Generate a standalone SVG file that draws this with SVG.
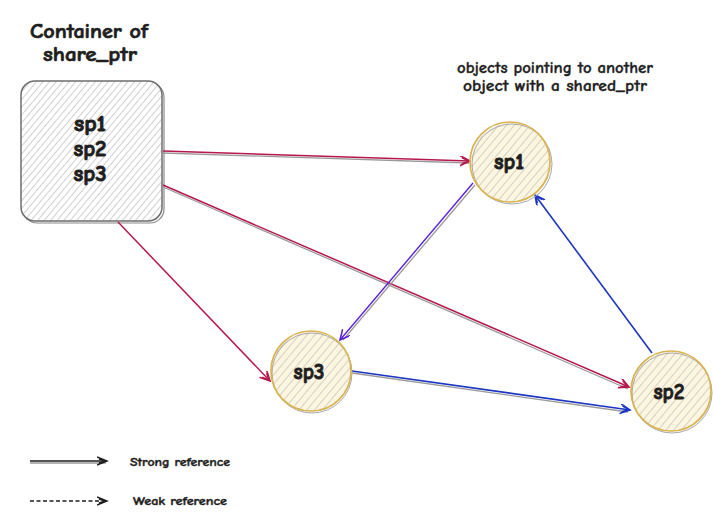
<svg xmlns="http://www.w3.org/2000/svg" width="713" height="514" viewBox="0 0 713 514">
<style>
text{font-family:"Comic Neue","Noto Sans","Liberation Sans",sans-serif;font-weight:bold;fill:#1e1e1e;stroke:#1e1e1e}
.t{font-size:21px;text-anchor:middle;stroke-width:0.7}
.n{font-size:22px;text-anchor:middle;stroke-width:0.9}
.c{font-size:15px;text-anchor:middle;stroke-width:0.3}
.l{font-size:12px;stroke-width:0.4}
.sh{stroke:#9a9a9a;stroke-width:1.3;fill:none}
.cr{stroke:#b5174f;stroke-width:1.5;fill:none}
.bl{stroke:#1c35c2;stroke-width:1.6;fill:none}
.pu{stroke:#5b1fe0;stroke-width:1.4;fill:none}
.ring{fill:none;stroke:#d9b451;stroke-width:1.7}
.ring2{fill:none;stroke:#a9a9a9;stroke-width:1}
</style>
<defs>
<pattern id="hg" patternUnits="userSpaceOnUse" width="5" height="5" patternTransform="rotate(40)">
<rect width="5" height="5" fill="#ffffff"/>
<line x1="0" y1="0" x2="0" y2="5" stroke="#a2a2a2" stroke-width="1"/>
</pattern>
<pattern id="hy" patternUnits="userSpaceOnUse" width="6" height="6" patternTransform="rotate(40)">
<rect width="6" height="6" fill="#fcf5e0"/>
<line x1="0" y1="0" x2="0" y2="6" stroke="#ababab" stroke-width="1"/>
</pattern>
<marker id="aC" markerWidth="12" markerHeight="12" refX="10" refY="5" orient="auto" markerUnits="userSpaceOnUse"><path d="M0,0 L10,5 L0,10 M2,2 L9,5 L2,8" fill="none" stroke="#b5174f" stroke-width="1.6"/></marker>
<marker id="aB" markerWidth="12" markerHeight="12" refX="10" refY="5" orient="auto" markerUnits="userSpaceOnUse"><path d="M0,0 L10,5 L0,10 M2,2 L9,5 L2,8" fill="none" stroke="#1c35c2" stroke-width="1.6"/></marker>
<marker id="aP" markerWidth="12" markerHeight="12" refX="10" refY="5" orient="auto" markerUnits="userSpaceOnUse"><path d="M0,0 L10,5 L0,10" fill="none" stroke="#5b1fe0" stroke-width="1.6"/></marker>
<marker id="aK" markerWidth="12" markerHeight="12" refX="10" refY="5" orient="auto" markerUnits="userSpaceOnUse"><path d="M0,1 L10,5 L0,9 M2,3 L9,5 L2,7" fill="none" stroke="#1e1e1e" stroke-width="1.4"/></marker>
</defs>

<g id="title">
<text class="t" x="89" y="38" textLength="118" lengthAdjust="spacingAndGlyphs">Container of</text>
<text class="t" x="90" y="61" textLength="94" lengthAdjust="spacingAndGlyphs">share_ptr</text>
</g>
<g id="caption">
<text class="c" x="555" y="73" textLength="196" lengthAdjust="spacingAndGlyphs">objects pointing to another</text>
<text class="c" x="555" y="91" textLength="184" lengthAdjust="spacingAndGlyphs">object with a shared_ptr</text>
</g>

<g id="container">
<rect x="23" y="83" width="141" height="140" rx="14" fill="none" stroke="#8a8a8a" stroke-width="1.2"/>
<rect x="21" y="81" width="141" height="140" rx="14" fill="url(#hg)" stroke="#6d6d6d" stroke-width="1.5"/>
<text class="n" x="90" y="131" textLength="32" lengthAdjust="spacingAndGlyphs">sp1</text>
<text class="n" x="90" y="156" textLength="33" lengthAdjust="spacingAndGlyphs">sp2</text>
<text class="n" x="90" y="181" textLength="33" lengthAdjust="spacingAndGlyphs">sp3</text>
</g>

<g id="connectors">
<line class="sh" x1="163" y1="153" x2="469" y2="163"/>
<line class="cr" x1="163" y1="151" x2="470" y2="161" marker-end="url(#aC)"/>
<line class="sh" x1="163" y1="187" x2="628" y2="389"/>
<line class="cr" x1="163" y1="185" x2="629" y2="387" marker-end="url(#aC)"/>
<line class="cr" x1="118" y1="222" x2="270" y2="381" marker-end="url(#aC)"/>
<line class="sh" x1="475" y1="185" x2="343" y2="340"/>
<line class="pu" x1="473" y1="183" x2="340" y2="340" marker-end="url(#aP)"/>
<line class="sh" x1="352" y1="373" x2="628" y2="412"/>
<line class="bl" x1="352" y1="371" x2="630" y2="410" marker-end="url(#aB)"/>
<line class="bl" x1="652" y1="353" x2="535" y2="195" marker-end="url(#aB)"/>
</g>

<g id="sp1">
<circle cx="511" cy="163" r="40" fill="url(#hy)" stroke="none"/>
<circle class="ring2" cx="512" cy="164" r="40"/>
<circle class="ring" cx="510" cy="162" r="40"/>
<text class="n" x="509" y="169" textLength="30" lengthAdjust="spacingAndGlyphs">sp1</text>
</g>
<g id="sp3">
<circle cx="311" cy="372" r="40" fill="url(#hy)" stroke="none"/>
<circle class="ring2" cx="312" cy="373" r="40"/>
<circle class="ring" cx="311" cy="371" r="40"/>
<text class="n" x="309" y="379" textLength="31" lengthAdjust="spacingAndGlyphs">sp3</text>
</g>
<g id="sp2">
<circle cx="671" cy="392" r="40" fill="url(#hy)" stroke="none"/>
<circle class="ring2" cx="672" cy="393" r="40"/>
<circle class="ring" cx="671" cy="391" r="40"/>
<text class="n" x="669" y="399" textLength="31" lengthAdjust="spacingAndGlyphs">sp2</text>
</g>

<g id="legend">
<line x1="30" y1="463" x2="106" y2="463" stroke="#9a9a9a" stroke-width="1.3"/>
<line x1="30" y1="461" x2="107" y2="461" stroke="#1e1e1e" stroke-width="1.4" marker-end="url(#aK)"/>
<text class="l" x="130" y="466" textLength="100" lengthAdjust="spacingAndGlyphs">Strong reference</text>
<line x1="30" y1="501" x2="107" y2="501" stroke="#1e1e1e" stroke-width="1.3" stroke-dasharray="4,2.5" marker-end="url(#aK)"/>
<text class="l" x="133" y="505" textLength="94" lengthAdjust="spacingAndGlyphs">Weak reference</text>
</g>
</svg>
